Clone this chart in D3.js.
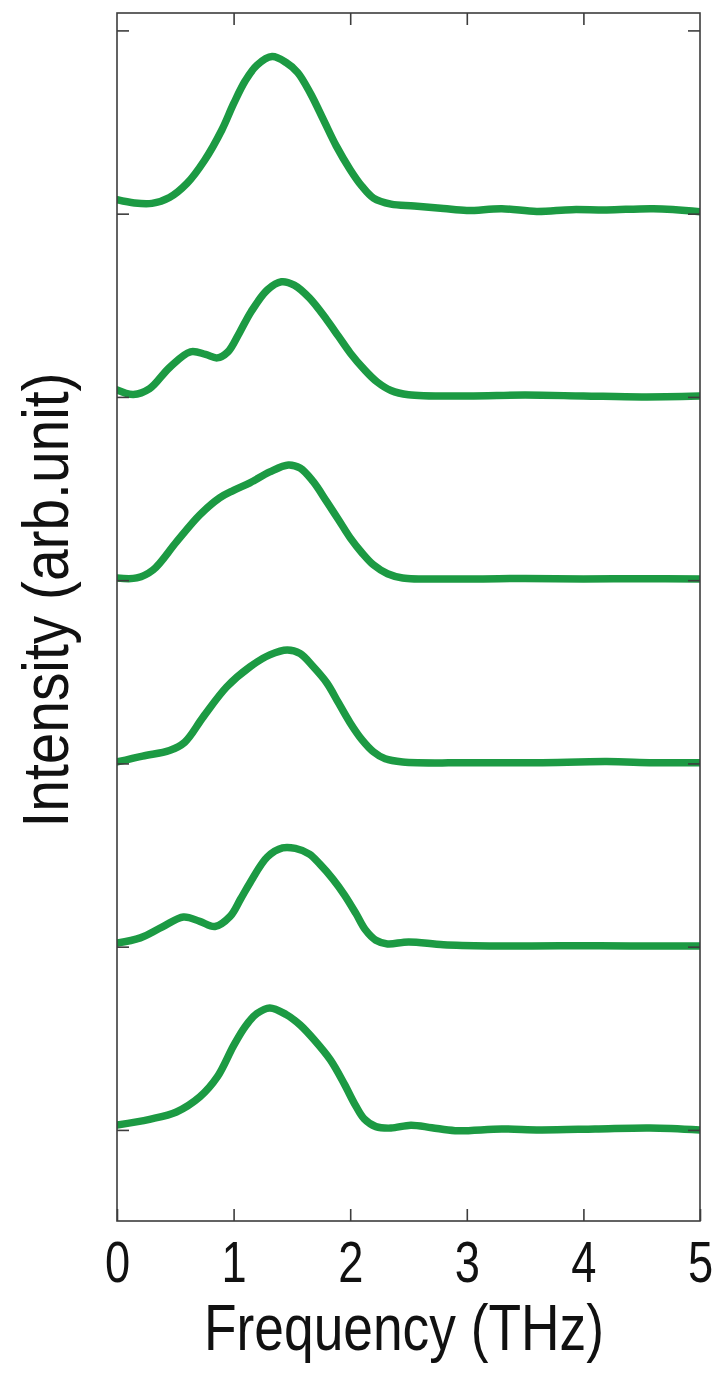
<!DOCTYPE html>
<html>
<head>
<meta charset="utf-8">
<script src="https://cdn.jsdelivr.net/npm/d3@7/dist/d3.min.js"></script>
<style>
  html, body { margin: 0; padding: 0; background: #ffffff; }
  svg { display: block; }
</style>
</head>
<body>
<svg id="chart" width="717" height="1379"></svg>
<script>
// Stacked THz spectra: each trace is [frequency (THz), intensity above its baseline]
const freqTicks = [0, 1, 2, 3, 4, 5];
const levelTicks = [0, 1, 2, 3, 4, 5, 6];
const traceOffsets = [5, 4, 3, 2, 1, 0];

const spectrumA = [
  [0, 0.076], [0.15, 0.058], [0.3, 0.056], [0.45, 0.088], [0.6, 0.165], [0.75, 0.290],
  [0.9, 0.458], [1.0, 0.600], [1.1, 0.725], [1.2, 0.810], [1.33, 0.857], [1.45, 0.825],
  [1.55, 0.770], [1.66, 0.655], [1.77, 0.513], [1.88, 0.370], [2.0, 0.240], [2.1, 0.150],
  [2.2, 0.085], [2.35, 0.052], [2.55, 0.042], [2.8, 0.028], [3.0, 0.017], [3.3, 0.027],
  [3.6, 0.012], [3.9, 0.022], [4.2, 0.020], [4.6, 0.027], [5.0, 0.011]
];
const spectrumB = [
  [0, 0.038], [0.14, 0.013], [0.28, 0.045], [0.45, 0.160], [0.63, 0.246], [0.76, 0.232],
  [0.86, 0.213], [0.95, 0.245], [1.05, 0.350], [1.15, 0.465], [1.29, 0.584], [1.41, 0.628],
  [1.52, 0.610], [1.65, 0.540], [1.8, 0.420], [1.9, 0.330], [2.0, 0.240], [2.12, 0.150],
  [2.23, 0.082], [2.35, 0.035], [2.5, 0.012], [3.0, 0.005], [3.5, 0.010], [4.0, 0.005],
  [4.5, 0.000], [5.0, 0.005]
];
const spectrumC = [
  [0, 0.012], [0.17, 0.012], [0.31, 0.056], [0.51, 0.209], [0.71, 0.356], [0.88, 0.449],
  [1.0, 0.490], [1.14, 0.531], [1.31, 0.591], [1.47, 0.629], [1.57, 0.612], [1.68, 0.540],
  [1.8, 0.427], [1.9, 0.330], [2.0, 0.231], [2.1, 0.150], [2.2, 0.083], [2.32, 0.035],
  [2.45, 0.012], [3.0, 0.007], [3.5, 0.009], [4.0, 0.007], [4.5, 0.008], [5.0, 0.007]
];
const spectrumD = [
  [0, 0.008], [0.22, 0.040], [0.45, 0.070], [0.58, 0.115], [0.74, 0.254], [0.94, 0.417],
  [1.14, 0.527], [1.31, 0.592], [1.46, 0.619], [1.57, 0.600], [1.68, 0.530], [1.8, 0.439],
  [1.9, 0.330], [2.0, 0.221], [2.1, 0.130], [2.2, 0.063], [2.3, 0.025], [2.45, 0.008],
  [3.0, 0.003], [3.6, 0.004], [4.2, 0.010], [4.6, 0.004], [5.0, 0.003]
];
const spectrumE = [
  [0, 0.020], [0.2, 0.048], [0.39, 0.108], [0.57, 0.162], [0.71, 0.138], [0.84, 0.110],
  [0.97, 0.165], [1.06, 0.260], [1.14, 0.348], [1.29, 0.490], [1.42, 0.539], [1.53, 0.536],
  [1.65, 0.505], [1.74, 0.450], [1.85, 0.370], [1.95, 0.283], [2.05, 0.180], [2.13, 0.092],
  [2.22, 0.035], [2.32, 0.015], [2.5, 0.026], [2.8, 0.010], [3.2, 0.004], [3.8, 0.005],
  [4.4, 0.004], [5.0, 0.004]
];
const spectrumF = [
  [0, 0.027], [0.28, 0.058], [0.51, 0.098], [0.71, 0.180], [0.86, 0.289], [1.0, 0.460],
  [1.1, 0.565], [1.2, 0.635], [1.31, 0.666], [1.45, 0.630], [1.57, 0.573], [1.7, 0.485],
  [1.83, 0.382], [1.95, 0.250], [2.04, 0.140], [2.12, 0.060], [2.22, 0.018], [2.35, 0.010],
  [2.52, 0.026], [2.7, 0.012], [2.9, -0.004], [3.3, 0.005], [3.63, 0.000], [4.1, 0.005],
  [4.57, 0.011], [5.0, 0.000]
];
const spectra = [spectrumA, spectrumB, spectrumC, spectrumD, spectrumE, spectrumF];

const plot = { left: 117, right: 700, top: 13, bottom: 1221 };
const svg = d3.select("#chart");

const x = d3.scaleLinear().domain([0, 5]).range([plot.left, plot.right]);
const y = d3.scaleLinear().domain([-0.497, 6.095]).range([plot.bottom, plot.top]);

const frameColor = "#3d3d3d";
const lineColor = "#1c9a43";
const fontStack = "'Liberation Sans Narrow', 'Arial Narrow', 'Liberation Sans', Arial, sans-serif";

// clip traces to the frame
svg.append("defs").append("clipPath").attr("id", "plotClip")
  .append("rect")
  .attr("x", plot.left).attr("y", plot.top)
  .attr("width", plot.right - plot.left).attr("height", plot.bottom - plot.top);

const line = d3.line()
  .x(d => x(d[0]))
  .y(d => y(d[1]))
  .curve(d3.curveCatmullRom.alpha(0.5));

svg.append("g").attr("clip-path", "url(#plotClip)")
  .selectAll("path")
  .data(spectra)
  .join("path")
  .attr("d", (s, i) => line(s.map(p => [p[0], p[1] + traceOffsets[i]])))
  .attr("fill", "none")
  .attr("stroke", lineColor)
  .attr("stroke-width", 7.5)
  .attr("stroke-linejoin", "round")
  .attr("stroke-linecap", "round");

function styleAxis(g) {
  g.select(".domain").remove();
  g.selectAll(".tick line").attr("stroke", frameColor).attr("stroke-width", 1.6);
}

// inward ticks on all four sides
svg.append("g").attr("transform", `translate(0,${plot.bottom})`)
  .call(d3.axisBottom(x).tickValues(freqTicks).tickSize(-12).tickPadding(20).tickFormat(d3.format("d")))
  .call(styleAxis)
  .call(g => g.selectAll(".tick text")
    .attr("fill", "#111")
    .attr("font-family", fontStack)
    .attr("font-size", 58)
    .attr("transform", "scale(0.78,1)"));

svg.append("g").attr("transform", `translate(0,${plot.top})`)
  .call(d3.axisTop(x).tickValues(freqTicks.slice(1, -1)).tickSize(-12).tickFormat(""))
  .call(styleAxis);

svg.append("g").attr("transform", `translate(${plot.left},0)`)
  .call(d3.axisLeft(y).tickValues(levelTicks).tickSize(-12).tickFormat(""))
  .call(styleAxis);

svg.append("g").attr("transform", `translate(${plot.right},0)`)
  .call(d3.axisRight(y).tickValues(levelTicks).tickSize(-12).tickFormat(""))
  .call(styleAxis);

// frame
svg.append("rect")
  .attr("x", plot.left).attr("y", plot.top)
  .attr("width", plot.right - plot.left).attr("height", plot.bottom - plot.top)
  .attr("fill", "none").attr("stroke", frameColor).attr("stroke-width", 1.6);

// axis titles
svg.append("text")
  .attr("x", 404).attr("y", 1350)
  .attr("text-anchor", "middle")
  .attr("font-family", fontStack)
  .attr("font-size", 64)
  .attr("fill", "#111")
  .attr("textLength", 400).attr("lengthAdjust", "spacingAndGlyphs")
  .text("Frequency (THz)");

svg.append("text")
  .attr("transform", "translate(68,600) rotate(-90)")
  .attr("text-anchor", "middle")
  .attr("font-family", fontStack)
  .attr("font-size", 64)
  .attr("fill", "#111")
  .attr("textLength", 455).attr("lengthAdjust", "spacingAndGlyphs")
  .text("Intensity (arb.unit)");
</script>
</body>
</html>
